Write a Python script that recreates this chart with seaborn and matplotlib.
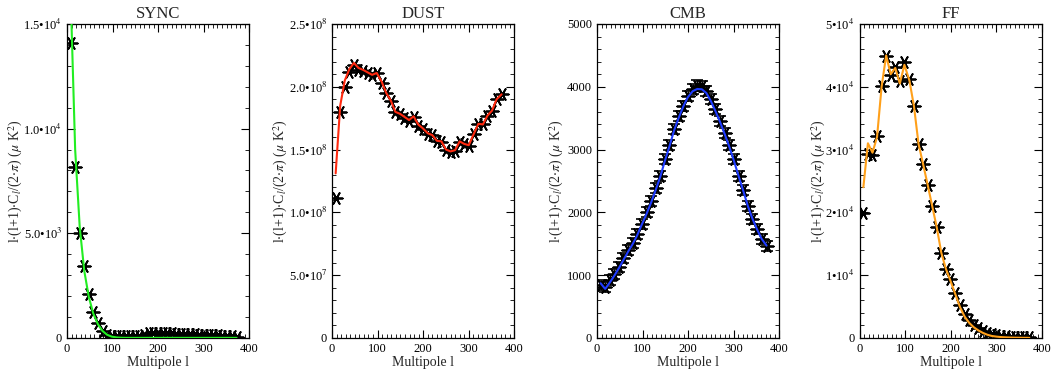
import numpy as np
import pandas as pd
import matplotlib
matplotlib.use("Agg")
import matplotlib.pyplot as plt
import seaborn as sns
from matplotlib.ticker import FixedLocator, FixedFormatter, MultipleLocator

# --- DATA ---
ells = [8, 18, 28, 38, 48, 58, 68, 78, 88, 98, 109, 119, 129, 139, 149, 159, 169, 179, 189,
        199, 210, 220, 230, 240, 250, 260, 270, 280, 290, 300, 311, 321, 331, 341, 351, 361, 372]

sync_pts = [14100, 8150, 5020, 3420, 2100, 1240, 720, 320, 160, 100, 90, 90, 80, 80, 100, 110,
            130, 220, 250, 240, 230, 220, 210, 200, 190, 180, 180, 170, 160, 150, 140, 130,
            120, 110, 100, 90, 60]
sync_fit = [16500, 9000, 5300, 3200, 1950, 1150, 650, 330, 150, 60, 20, 5, 0, 0, 0, 0, 0, 0, 0,
            0, 0, 0, 0, 0, 0, 0, 0, 0, 0, 0, 0, 0, 0, 0, 0, 0, 0]

dust_pts = [1.114, 1.80, 2.00, 2.12, 2.17, 2.135, 2.125, 2.106, 2.09, 2.106, 2.03, 1.95, 1.89,
            1.80, 1.78, 1.755, 1.73, 1.76, 1.69, 1.666, 1.626, 1.612, 1.565, 1.56, 1.50, 1.48,
            1.49, 1.56, 1.545, 1.53, 1.625, 1.705, 1.70, 1.77, 1.81, 1.90, 1.94]
dust_fit = [1.31, 1.85, 2.05, 2.14, 2.19, 2.15, 2.135, 2.115, 2.095, 2.11, 2.04, 1.95, 1.89,
            1.80, 1.785, 1.76, 1.735, 1.765, 1.70, 1.67, 1.63, 1.615, 1.57, 1.565, 1.50, 1.485,
            1.495, 1.565, 1.545, 1.535, 1.625, 1.705, 1.70, 1.77, 1.81, 1.90, 1.94]

cmb_pts = [840, 810, 920, 1010, 1130, 1270, 1400, 1510, 1650, 1820, 2000, 2180, 2380, 2580,
           2850, 3070, 3330, 3530, 3700, 3860, 3960, 4020, 4010, 3940, 3800, 3640, 3460, 3270,
           3080, 2850, 2580, 2350, 2100, 1900, 1730, 1580, 1470]
cmb_fit = [870, 780, 880, 990, 1110, 1240, 1370, 1490, 1630, 1800, 1980, 2160, 2360, 2570,
           2820, 3050, 3300, 3500, 3680, 3830, 3930, 3965, 3960, 3900, 3770, 3610, 3440, 3250,
           3050, 2830, 2570, 2340, 2100, 1900, 1730, 1580, 1470]
cmb_err = [80] * 37

ff_pts = [1.985, 2.935, 2.92, 3.21, 4.02, 4.49, 4.18, 4.31, 4.09, 4.39, 4.13, 3.69, 3.09, 2.77,
          2.44, 2.10, 1.76, 1.355, 1.10, 0.93, 0.715, 0.52, 0.38, 0.29, 0.21, 0.155, 0.107,
          0.075, 0.055, 0.04, 0.03, 0.025, 0.02, 0.016, 0.013, 0.01, 0.008]
ff_fit = [2.40, 3.10, 2.95, 3.20, 4.00, 4.50, 4.20, 4.30, 4.05, 4.35, 4.10, 3.69, 3.09, 2.77,
          2.44, 2.10, 1.76, 1.355, 1.10, 0.91, 0.69, 0.49, 0.34, 0.24, 0.17, 0.12, 0.08, 0.05,
          0.03, 0.02, 0.012, 0.008, 0.005, 0.003, 0.002, 0.001, 0.0]

titles = ["SYNC", "DUST", "CMB", "FF"]
line_colors = ["#22ee22", "#ff2a10", "#1f3cff", "#ffa01a"]
ylims = [(0, 1.5e4), (0, 2.5e8), (0, 5000), (0, 5e4)]
yticks = [[0, 5e3, 1e4, 1.5e4],
          [0, 5e7, 1e8, 1.5e8, 2e8, 2.5e8],
          [0, 1000, 2000, 3000, 4000, 5000],
          [0, 1e4, 2e4, 3e4, 4e4, 5e4]]
yticklabels = [["0", "5.0•10$^3$", "1.0•10$^4$", "1.5•10$^4$"],
               ["0", "5.0•10$^7$", "1.0•10$^8$", "1.5•10$^8$", "2.0•10$^8$", "2.5•10$^8$"],
               ["0", "1000", "2000", "3000", "4000", "5000"],
               ["0", "1•10$^4$", "2•10$^4$", "3•10$^4$", "4•10$^4$", "5•10$^4$"]]
yminor = [1000, 1e7, 200, 2000]
ylabel_pads = [-1, -1, 1, -2]

sns.set_theme(style="ticks")
plt.rcParams["font.family"] = ["Liberation Serif", "DejaVu Serif"]
plt.rcParams["mathtext.fontset"] = "stix"

df_list = [
    pd.DataFrame({"l": ells, "pts": sync_pts, "fit": sync_fit}),
    pd.DataFrame({"l": ells, "pts": np.array(dust_pts) * 1e8, "fit": np.array(dust_fit) * 1e8}),
    pd.DataFrame({"l": ells, "pts": cmb_pts, "fit": cmb_fit}),
    pd.DataFrame({"l": ells, "pts": np.array(ff_pts) * 1e4, "fit": np.array(ff_fit) * 1e4}),
]

fig = plt.figure(figsize=(10.51, 3.75), dpi=100)
lefts = [0.0637, 0.3159, 0.568, 0.818]
star = (6, 2, 90)

for i, df in enumerate(df_list):
    ax = fig.add_axes([lefts[i], 0.099, 0.1735, 0.837])
    if i == 2:
        ax.errorbar(df["l"], df["pts"], yerr=cmb_err, fmt="none", ecolor="black",
                    elinewidth=1.0, capsize=4, capthick=1.2, zorder=2)
    sns.scatterplot(data=df, x="l", y="pts", marker=star, color="black", s=80,
                    linewidth=1.3, ax=ax, zorder=2)
    sns.lineplot(data=df, x="l", y="fit", color=line_colors[i], linewidth=1.5, ax=ax, zorder=3)

    ax.set_xlim(0, 400)
    ax.set_ylim(*ylims[i])
    ax.xaxis.set_major_locator(FixedLocator([0, 100, 200, 300, 400]))
    ax.xaxis.set_minor_locator(MultipleLocator(10))
    ax.yaxis.set_major_locator(FixedLocator(yticks[i]))
    ax.yaxis.set_major_formatter(FixedFormatter(yticklabels[i]))
    ax.yaxis.set_minor_locator(MultipleLocator(yminor[i]))
    ax.tick_params(which="both", direction="in", top=True, right=True, colors="black",
                   labelsize=9)
    ax.tick_params(which="major", length=6, width=0.8)
    ax.tick_params(which="minor", length=3, width=0.6)
    for sp in ax.spines.values():
        sp.set_color("black")
        sp.set_linewidth(0.9)

    ax.set_title(titles[i], fontsize=12, pad=4)
    ax.set_xlabel("Multipole l", fontsize=10, labelpad=1)
    ax.set_ylabel(r"l$\cdot$(l+1)$\cdot$C$_l$/(2$\cdot\pi$) ($\mu$ K$^2$)", fontsize=10,
                  labelpad=ylabel_pads[i])

fig.savefig("out.png", dpi=100)
